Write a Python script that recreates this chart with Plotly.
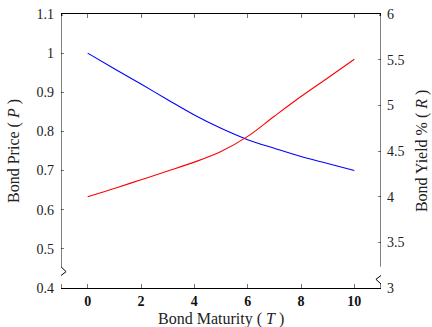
import plotly.graph_objects as go

maturity = [0, 1, 2, 3, 4, 5, 6, 7, 8, 9, 10]
bond_price = [1.0, 0.96, 0.921, 0.881, 0.842, 0.808, 0.779, 0.757, 0.736, 0.718, 0.70]
bond_yield = [4.0, 4.09, 4.185, 4.28, 4.378, 4.494, 4.66, 4.88, 5.096, 5.30, 5.504]

x_ticks = [0, 2, 4, 6, 8, 10]
x_ticktext = ["<b>0</b>", "<b>2</b>", "<b>4</b>", "<b>6</b>", "<b>8</b>", "<b>10</b>"]
y1_ticks = [0.4, 0.5, 0.6, 0.7, 0.8, 0.9, 1.0, 1.1]
y1_ticktext = ["0.4", "0.5", "0.6", "0.7", "0.8", "0.9", "1", "1.1"]
y2_ticks = [3, 3.5, 4, 4.5, 5, 5.5, 6]
y2_ticktext = ["3", "3.5", "4", "4.5", "5", "5.5", "6"]

x_title = "Bond Maturity ( <i>T</i> )"
y1_title = "Bond Price ( <i>P</i> )"
y2_title = "Bond Yield % ( <i>R</i> )"

FONT = "Liberation Serif, DejaVu Serif, serif"
TXT = "#222"

fig = go.Figure()
fig.add_trace(go.Scatter(x=maturity, y=bond_price, mode="lines", line=dict(color="#0000ff", width=1.1, shape="spline"),
                         yaxis="y", showlegend=False))
fig.add_trace(go.Scatter(x=maturity, y=bond_yield, mode="lines", line=dict(color="#ff0000", width=1.1, shape="spline"),
                         yaxis="y2", showlegend=False))

shapes = []
shapes.append(dict(type="path", xref="x", yref="y",
                   path="M -1,1.1 L -1,0.4544 L -0.81,0.4417 L -1.19,0.4222 L -1,0.4102 L -1,0.4",
                   line=dict(color="black", width=1)))
shapes.append(dict(type="path", xref="x", yref="y2",
                   path="M 11,6 L 11,3.233 L 11.19,3.178 L 10.81,3.095 L 11,3.044 L 11,3",
                   line=dict(color="black", width=1)))
shapes.append(dict(type="path", xref="x", yref="y",
                   path="M -1.05,1.096 L -1,1.104 L -0.95,1.096 Z",
                   line=dict(color="black", width=0.6), fillcolor="black"))
shapes.append(dict(type="path", xref="x", yref="y2",
                   path="M 10.95,5.983 L 11,6.017 L 11.05,5.983 Z",
                   line=dict(color="black", width=0.6), fillcolor="black"))

annotations = [
    dict(text=x_title, xref="paper", yref="paper", x=0.5, y=-0.112, showarrow=False,
         xanchor="center", yanchor="middle", font=dict(family=FONT, size=16, color=TXT)),
    dict(text=y1_title, xref="paper", yref="paper", x=-0.147, y=0.5, showarrow=False, textangle=-90,
         xanchor="center", yanchor="middle", font=dict(family=FONT, size=16, color=TXT)),
    dict(text=y2_title, xref="paper", yref="paper", x=1.1285, y=0.5, showarrow=False, textangle=-90,
         xanchor="center", yanchor="middle", font=dict(family=FONT, size=16, color=TXT)),
]

fig.update_layout(
    width=432, height=327,
    margin=dict(l=61, r=51, t=14, b=39),
    paper_bgcolor="white", plot_bgcolor="white",
    font=dict(family=FONT, size=14, color=TXT),
    shapes=shapes,
    annotations=annotations,
    xaxis=dict(range=[-1, 11], tickvals=x_ticks, ticktext=x_ticktext, automargin=False,
               showgrid=False, zeroline=False, showline=True, linecolor="black", linewidth=1,
               mirror="ticks", ticks="inside", ticklen=4, tickcolor="#777", tickwidth=1,
               ticklabelstandoff=0,
               tickfont=dict(family=FONT, size=14, color="#111")),
    yaxis=dict(range=[0.4, 1.1], tickvals=y1_ticks, ticktext=y1_ticktext, automargin=False,
               showgrid=False, zeroline=False, showline=False,
               ticks="inside", ticklen=3, tickcolor="#777", tickwidth=1,
               ticklabelstandoff=6,
               tickfont=dict(family=FONT, size=14, color=TXT)),
    yaxis2=dict(range=[3, 6], tickvals=y2_ticks, ticktext=y2_ticktext, overlaying="y", side="right",
                automargin=False, showgrid=False, zeroline=False, showline=False,
                ticks="inside", ticklen=3, tickcolor="#777", tickwidth=1,
                ticklabelstandoff=5,
                tickfont=dict(family=FONT, size=14, color=TXT)),
)

fig.write_html("out.html", config={"displayModeBar": False},
               post_script="document.body.style.margin='0';document.body.style.padding='0';")
